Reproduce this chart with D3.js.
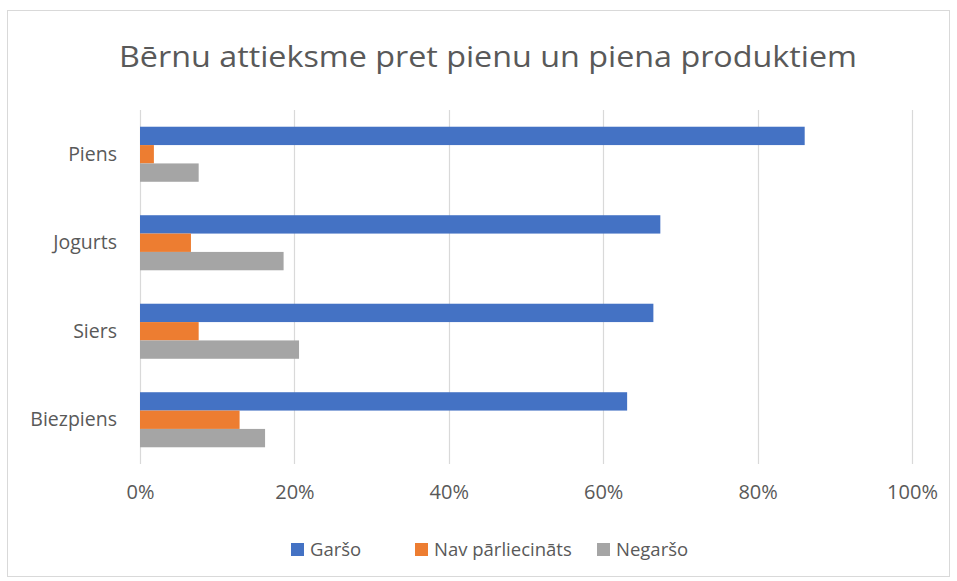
<!DOCTYPE html>
<html><head><meta charset="utf-8">
<script src="https://cdn.jsdelivr.net/npm/d3@7/dist/d3.min.js"></script>
<style>body{margin:0;background:#fff}svg{display:block}text{font-family:"Open Sans",sans-serif;fill:#595959}</style>
</head><body>
<svg id="c" width="957" height="581"></svg>
<script>
const categories = ["Piens", "Jogurts", "Siers", "Biezpiens"];
const seriesNames = ["Garšo", "Nav pārliecināts", "Negaršo"];
const garso = [0.861, 0.674, 0.665, 0.631];
const navParliecinats = [0.018, 0.066, 0.076, 0.129];
const negarso = [0.076, 0.186, 0.206, 0.162];
const ticks = [0, 0.2, 0.4, 0.6, 0.8, 1.0];
const colors = ["#4472C4", "#ED7D31", "#A5A5A5"];

const values = [garso, navParliecinats, negarso];
const svg = d3.select("#c");
svg.append("rect").attr("x",7.5).attr("y",10.5).attr("width",942).attr("height",566)
  .attr("fill","#fff").attr("stroke","#d9d9d9").attr("stroke-width",1);

svg.append("text").attr("x",488).attr("y",67).attr("text-anchor","middle")
  .attr("font-size",30).attr("textLength",738).attr("lengthAdjust","spacingAndGlyphs")
  .text("Bērnu attieksme pret pienu un piena produktiem");

const x = d3.scaleLinear().domain([0,1]).range([140,912]);
const y = d3.scaleBand().domain(categories).range([110,464]).paddingInner(0.378).paddingOuter(0.189);
const ySub = d3.scaleBand().domain(d3.range(3)).range([0,y.bandwidth()]);

const grid = svg.append("g");
ticks.forEach(t=>{
  grid.append("line").attr("x1",Math.round(x(t))+0.5).attr("x2",Math.round(x(t))+0.5)
    .attr("y1",110).attr("y2",464).attr("stroke","#d9d9d9").attr("stroke-width",1.2);
});

const bars = svg.append("g");
categories.forEach((c,i)=>{
  values.forEach((s,j)=>{
    bars.append("rect").attr("x",x(0)).attr("y",y(c)+ySub(j))
      .attr("width",x(s[i])-x(0)).attr("height",ySub.bandwidth())
      .attr("fill",colors[j]);
  });
});

const xAxis = svg.append("g").attr("transform","translate(0,464)")
  .call(d3.axisBottom(x).tickValues(ticks).tickFormat(d3.format(".0%")).tickSize(0).tickPadding(21));
xAxis.select(".domain").remove();
xAxis.selectAll("text").attr("font-size",20).style("fill","#595959").style("font-family","Open Sans");

const yAxis = svg.append("g").attr("transform","translate(140,0)")
  .call(d3.axisLeft(y).tickSize(0).tickPadding(23));
yAxis.select(".domain").remove();
yAxis.selectAll("text").attr("font-size",19.5).style("fill","#595959").style("font-family","Open Sans");

const legendX = [291, 415, 597];
const lg = svg.append("g");
seriesNames.forEach((n,j)=>{
  lg.append("rect").attr("x",legendX[j]).attr("y",543).attr("width",13).attr("height",13).attr("fill",colors[j]);
  lg.append("text").attr("x",legendX[j]+19).attr("y",556).attr("font-size",18.5).text(n);
});
</script>
</body></html>
